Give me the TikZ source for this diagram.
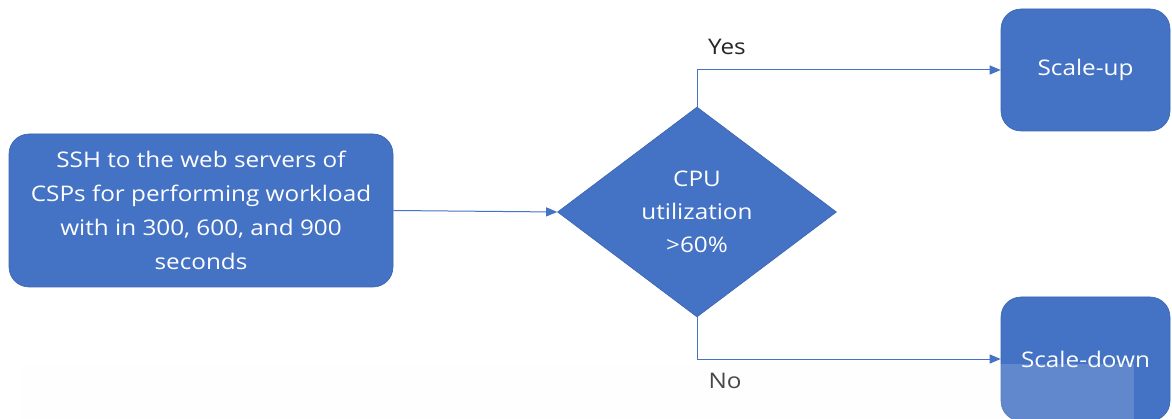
\documentclass[tikz,border=0pt]{standalone}
\usepackage{fontspec}
\setmainfont{Open Sans}[FakeStretch=1.13]
\usetikzlibrary{arrows.meta,shapes.geometric}
\definecolor{boxblue}{HTML}{4472C4}
\definecolor{edgeblue}{HTML}{3B64B0}
\definecolor{haze}{HTML}{FAFAFA}
\tikzset{
  x=1pt, y=-1pt,
  flowbox/.style={rectangle, rounded corners=20pt, fill=boxblue, draw=edgeblue, line width=0.6pt,
    text=white, align=center, inner sep=0pt, font=\fontsize{21.5}{34}\selectfont},
  decision/.style={diamond, fill=boxblue, draw=edgeblue, line width=0.6pt, text=white, align=center,
    inner sep=0pt, aspect=1.33, minimum width=279pt, minimum height=210pt,
    font=\fontsize{21.5}{33}\selectfont},
  flow/.style={draw=boxblue, line width=1pt, -{Triangle[length=11pt,width=9pt]}},
  branchlabel/.style={text=black!85, font=\fontsize{21.5}{28}\selectfont, inner sep=0pt}
}
\begin{document}
\begin{tikzpicture}
\useasboundingbox (0,0) rectangle (1172,419);
\clip (0,0) rectangle (1172,419);
\fill[white] (0,0) rectangle (1172,419);

\node[flowbox, minimum width=384pt, minimum height=153pt] (ssh) at (201,210.5)
  {SSH to the web servers of\\CSPs for performing workload\\with in 300, 600, and 900\\seconds};
\node[decision] (cpu) at (697,212) {CPU\\utilization\\>60\%};
\node[flowbox, minimum width=169pt, minimum height=122pt] (up) at (1085.5,70) {Scale-up};
\node[flowbox, minimum width=169pt, minimum height=124pt] (down) at (1085.5,359) {Scale-down};

\draw[flow] (ssh.east) -- (cpu.west);
\draw[flow] (cpu.north) |- (up.west);
\draw[flow] (cpu.south) |- (down.west);

\node[branchlabel] (yes) at (727,47) {Yes};
\node[branchlabel] (no) at (725,381) {No};

% faint translucent band along the bottom
\fill[haze, opacity=0.16] (21,363.5) rectangle (1133.5,419);
\end{tikzpicture}
\end{document}
